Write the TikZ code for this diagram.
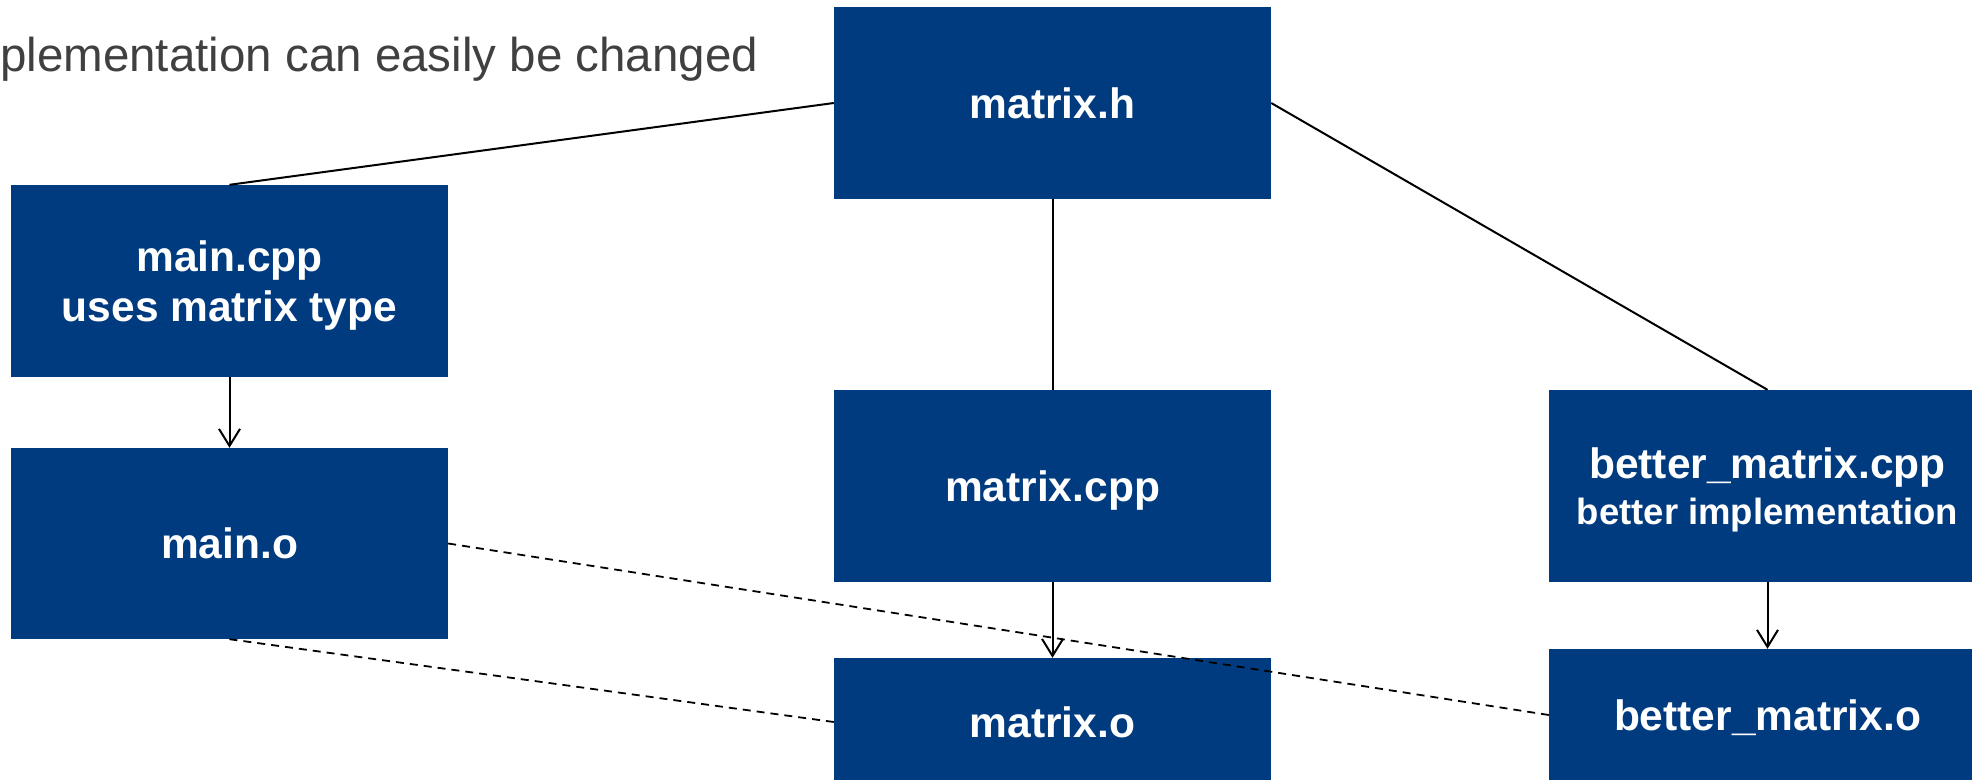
\documentclass[tikz,border=0pt]{standalone}
\usepackage{fontspec}
\setmainfont{Liberation Sans}
\usetikzlibrary{arrows.meta,calc}
\definecolor{boxblue}{HTML}{003B80}
\definecolor{slidegray}{HTML}{404040}
\tikzset{
  filebox/.style={rectangle, fill=boxblue, draw=none, inner sep=0pt,
    minimum width=437pt, minimum height=192pt, text=white, align=center,
    font=\fontsize{42.5}{50}\selectfont\bfseries, text depth=0pt},
  link/.style={line width=2pt, draw=black},
  build/.style={line width=2pt, draw=black, -{Straight Barb[length=17pt,width=21pt,line width=2pt]}},
  objlink/.style={line width=1.8pt, draw=black, dash pattern=on 8pt off 6pt}
}
\begin{document}
\begin{tikzpicture}[x=1pt,y=-1pt]
\useasboundingbox (0,0) rectangle (1972,779);
\begin{scope}
\clip (0,0) rectangle (1972,779);
\node[anchor=base west, inner sep=0pt, text=slidegray, font=\fontsize{47.5}{55}\selectfont] (note) at (0,71) {plementation can easily be changed};

\node[filebox] (mh) at (1052.5,103) {matrix.h};
\node[filebox] (mcpp) at (229.5,281) {main.cpp\\uses matrix type};
\node[filebox, minimum height=191pt] (mainobj) at (229.5,543.5) {main.o};
\node[filebox] (matcpp) at (1052.5,486) {matrix.cpp};
\node[filebox, font=\fontsize{42.5}{46}\selectfont\bfseries] (bcpp) at (1767.5,486) {better\_matrix.cpp\\{\fontsize{36.5}{46}\selectfont better implementation}};
\node[filebox, minimum height=128pt] (mato) at (1052.5,722) {matrix.o};
\node[filebox, minimum height=132pt] (bmo) at (1767.5,715) {better\_matrix.o};

\draw[link] (mh.west) -- (mcpp.north);
\draw[link] (mh.south) -- (matcpp.north);
\draw[link] (mh.east) -- (bcpp.north);
\draw[build] (mcpp.south) -- (mainobj.north);
\draw[build] (matcpp.south) -- (mato.north);
\draw[build] (bcpp.south) -- (bmo.north);
\draw[objlink] (mainobj.east) -- (bmo.west);
\draw[objlink] (mainobj.south) -- (mato.west);
\end{scope}
\end{tikzpicture}
\end{document}
